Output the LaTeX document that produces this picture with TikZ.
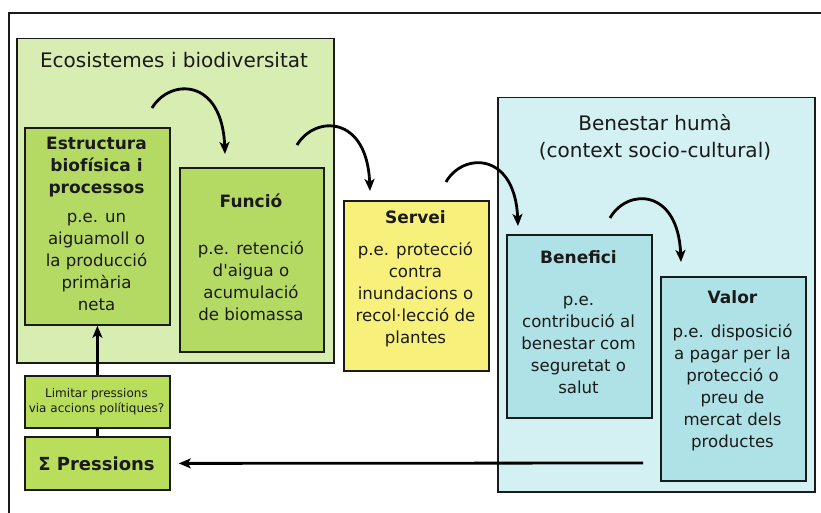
\documentclass[tikz,border=0pt]{standalone}
\usepackage{fontspec}
\setmainfont{DejaVu Sans}
\usetikzlibrary{arrows.meta}
\definecolor{outgreen}{HTML}{D8EDB2}
\definecolor{ingreen}{HTML}{B5DA64}
\definecolor{presgreen}{HTML}{B8DE5C}
\definecolor{servyellow}{HTML}{F7F07A}
\definecolor{outblue}{HTML}{D3F0F2}
\definecolor{inblue}{HTML}{AEE2E6}
\definecolor{ink}{HTML}{1A1A1A}
\newcommand{\bodyfont}{\fontsize{16.6}{22}\selectfont}
\newcommand{\headfont}{\fontsize{17}{22}\selectfont\bfseries}
\newcommand{\titlefont}{\fontsize{20}{27}\selectfont}
\begin{document}
\begin{tikzpicture}[x=1pt,y=-1pt,
  boxbase/.style={draw=ink, line width=1.8pt, anchor=north west, inner sep=0pt},
  outerg/.style={boxbase, fill=outgreen, line width=1.5pt},
  outerb/.style={boxbase, fill=outblue, line width=1.5pt},
  innerg/.style={boxbase, fill=ingreen},
  presg/.style={boxbase, fill=presgreen},
  servy/.style={boxbase, fill=servyellow},
  innerb/.style={boxbase, fill=inblue},
  txt/.style={anchor=north, align=center, inner sep=0pt, text=ink, font=\bodyfont},
  flow/.style={draw=black, line width=2.8pt, -{Stealth[length=12pt,width=10pt,inset=3pt]}},
  plain/.style={draw=black, line width=2.8pt}
]
\useasboundingbox (0,0) rectangle (821,513);
% frame
\draw[line width=2.2pt, draw=ink] (9,513) -- (9,13) -- (821,13);

% outer boxes
\node[outerg, minimum width=317pt, minimum height=324pt] (eco) at (16,38) {};
\node[outerb, minimum width=317pt, minimum height=394pt] (ben) at (497,97) {};
\node[anchor=base, inner sep=0pt, text=ink, font=\titlefont] (ecot) at (174,67.5) {Ecosistemes i biodiversitat};
\node[txt, font=\titlefont] (bent) at (655,111) {\strut Benestar humà\\(context socio-cultural)};

% inner boxes
\node[innerg, minimum width=145pt, minimum height=197pt] (est) at (24,127) {};
\node[innerg, minimum width=144pt, minimum height=184pt] (fun) at (179,167) {};
\node[servy, minimum width=145pt, minimum height=170pt] (ser) at (343,200) {};
\node[innerb, minimum width=145pt, minimum height=183pt] (bnf) at (506,234) {};
\node[innerb, minimum width=145pt, minimum height=204pt] (val) at (660,276) {};
\node[presg, minimum width=145pt, minimum height=52pt] (lim) at (24,375) {};
\node[presg, minimum width=145pt, minimum height=53pt] (pre) at (24,436) {};

% texts
\node[txt] (estt) at (96.5,133.6) {\headfont\strut Estructura\\\headfont biofísica i\\\headfont processos\\[7pt]\bodyfont p.e. un\\\bodyfont aiguamoll o\\\bodyfont la producció\\\bodyfont primària\\\bodyfont neta};
\node[txt] (funt) at (251,191.6) {\headfont\strut Funció\\[25pt]\bodyfont p.e. retenció\\\bodyfont d\textquotesingle aigua o\\\bodyfont acumulació\\\bodyfont de biomassa};
\node[txt] (sert) at (415.5,207.6) {\headfont\strut Servei\\[10pt]\bodyfont p.e. protecció\\\bodyfont contra\\\bodyfont inundacions o\\\bodyfont recol·lecció de\\\bodyfont plantes};
\node[txt] (bnft) at (578.5,247.6) {\headfont\strut Benefici\\[20pt]\bodyfont p.e.\\\bodyfont contribució al\\\bodyfont benestar com\\\bodyfont seguretat o\\\bodyfont salut};
\node[txt] (valt) at (732.5,287.6) {\headfont\strut Valor\\[12pt]\bodyfont p.e. disposició\\\bodyfont a pagar per la\\\bodyfont protecció o\\\bodyfont preu de\\\bodyfont mercat dels\\\bodyfont productes};
\node[txt, font=\fontsize{12}{14.5}\selectfont] (limt) at (96.5,387.5) {\strut Limitar pressions\\via accions polítiques?};
\node[anchor=base, inner sep=0pt, text=ink, font=\fontsize{18}{22}\selectfont\bfseries] (pret) at (96.5,470) {Σ Pressions};

% curved arrows
\coordinate (a1s) at (152,108); \coordinate (a1e) at (225,154);
\coordinate (a2s) at (297,145); \coordinate (a2e) at (370,191);
\coordinate (a3s) at (446,182); \coordinate (a3e) at (518,226);
\coordinate (a4s) at (610,218); \coordinate (a4e) at (681,262);
\draw[flow] (a1s) .. controls (170,78) and (222,78) .. (a1e);
\draw[flow] (a2s) .. controls (315,115) and (367,115) .. (a2e);
\draw[flow] (a3s) .. controls (463,152) and (515,152) .. (a3e);
\draw[flow] (a4s) .. controls (627,188) and (678,188) .. (a4e);

% pressions connectors
\coordinate (ps) at (643,463);
\draw[flow] (ps) -- ([xshift=8pt]pre.east);
\draw[flow] (lim.north) -- (est.south);
\draw[plain] (pre.north) -- (lim.south);
\end{tikzpicture}
\end{document}
